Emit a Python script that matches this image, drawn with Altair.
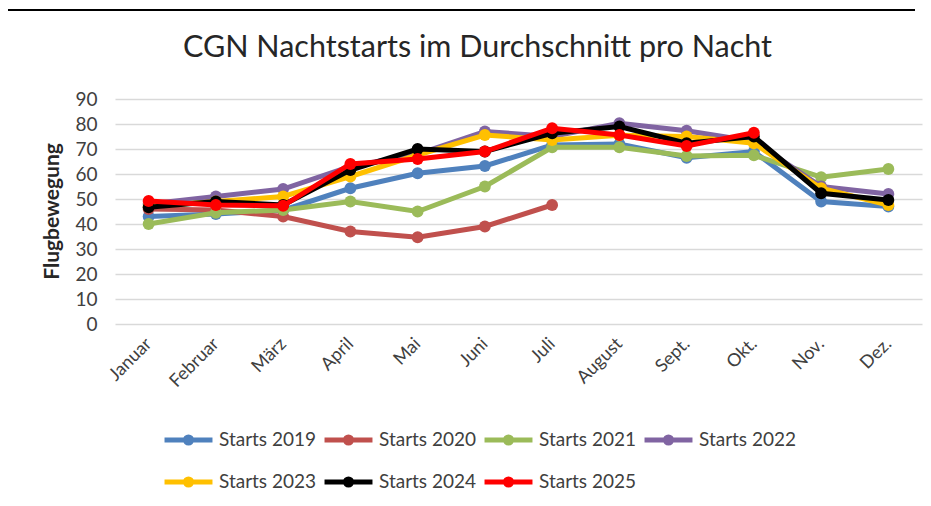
import altair as alt
import pandas as pd

months = ["Januar", "Februar", "März", "April", "Mai", "Juni", "Juli",
          "August", "Sept.", "Okt.", "Nov.", "Dez."]

series_names = ["Starts 2019", "Starts 2020", "Starts 2021", "Starts 2022",
                "Starts 2023", "Starts 2024", "Starts 2025"]
series_colors = ["#4F81BD", "#C0504D", "#9BBB59", "#8064A2",
                 "#FFC000", "#000000", "#FF0000"]

s2019 = [43, 44, 45.5, 54.3, 60.3, 63.2, 71.6, 72, 66.5, 69, 49, 47]
s2020 = [46, 45.6, 43, 37, 34.7, 39, 47.6, None, None, None, None, None]
s2021 = [40, 44.5, 45.6, 49, 45, 55, 70.7, 70.7, 67.2, 67.5, 58.7, 62]
s2022 = [48, 51, 54, 63, 68, 77, 75, 80.3, 77.3, 73, 55, 52]
s2023 = [47, 49, 51, 59, 67.6, 75.6, 73.6, 75.5, 75, 72.3, 54.3, 47.6]
s2024 = [46.7, 49, 47.6, 61.6, 70, 69, 76.3, 79, 72.3, 75, 52.3, 49.6]
s2025 = [49.2, 47.6, 47.3, 64, 66, 69, 78.3, 75.6, 71.2, 76.5, None, None]

all_series = [s2019, s2020, s2021, s2022, s2023, s2024, s2025]

rows = []
for name, vals in zip(series_names, all_series):
    for m, v in zip(months, vals):
        if v is not None:
            rows.append({"Monat": m, "Serie": name, "Wert": v})
df = pd.DataFrame(rows)

FONT = "Lato"

color_scale = alt.Scale(domain=series_names, range=series_colors)
legend_symbol = ("M-1,0L1,0M-0.13,0A0.13,0.13,0,1,0,0.13,0"
                 "A0.13,0.13,0,1,0,-0.13,0")

x_enc = alt.X("Monat:N", sort=months, title=None,
              axis=alt.Axis(labelAngle=-45, labelAlign="right", labelBaseline="middle",
                            labelPadding=17, labelFontSize=18, labelFont=FONT,
                            labelColor="#404040", ticks=False, domain=False, grid=False))
y_enc = alt.Y("Wert:Q", scale=alt.Scale(domain=[0, 90]),
              axis=alt.Axis(values=list(range(0, 91, 10)), title="Flugbewegung",
                            titleFontSize=21, titleFont=FONT, titleFontWeight="bold",
                            titleColor="#262626", titleAngle=-90, titleX=-63, titleY=112,
                            titleAlign="center", titleBaseline="middle",
                            labelFontSize=19, labelFont=FONT, labelColor="#404040",
                            labelPadding=18, ticks=False, domain=False,
                            gridColor="#d9d9d9", gridWidth=1.5))
c_enc = alt.Color("Serie:N", scale=color_scale, sort=series_names,
                  legend=alt.Legend(title=None, orient="none", legendX=47, legendY=331,
                                    direction="horizontal",
                                    columns=4, symbolType=legend_symbol, symbolSize=2300,
                                    symbolStrokeWidth=5, labelFontSize=19, labelFont=FONT,
                                    labelColor="#404040", labelOffset=4, columnPadding=5,
                                    rowPadding=22, clipHeight=20, padding=0))

layers = []
for name in series_names:
    base = alt.Chart(df).transform_filter(alt.datum.Serie == name)
    layers.append(base.mark_line(strokeWidth=5).encode(x=x_enc, y=y_enc, color=c_enc))
    layers.append(base.mark_point(filled=True, size=140, opacity=1).encode(
        x=x_enc, y=y_enc, color=c_enc))

border = alt.Chart(alt.Data(values=[{"a": 1}]))
left_line = border.mark_rule(color="black", strokeWidth=2).encode(
    x=alt.value(-108), y=alt.value(-89), y2=alt.value(400))
top_line = border.mark_rule(color="black", strokeWidth=2).encode(
    x=alt.value(-108), x2=alt.value(800), y=alt.value(-89))

chart = alt.layer(*layers, left_line, top_line).properties(
    width=807, height=225,
    title=alt.TitleParams("CGN Nachtstarts im Durchschnitt pro Nacht", fontSize=30.5,
                          font=FONT, fontWeight="normal", color="#262626",
                          anchor="middle", dx=-41, offset=0, dy=84, baseline="bottom"),
    autosize=alt.AutoSizeParams(type="none"),
    padding={"left": 107, "top": 91, "right": 1, "bottom": 174},
).configure_view(stroke=None)

chart.save("out.html", embed_options={"renderer": "svg", "actions": False})
